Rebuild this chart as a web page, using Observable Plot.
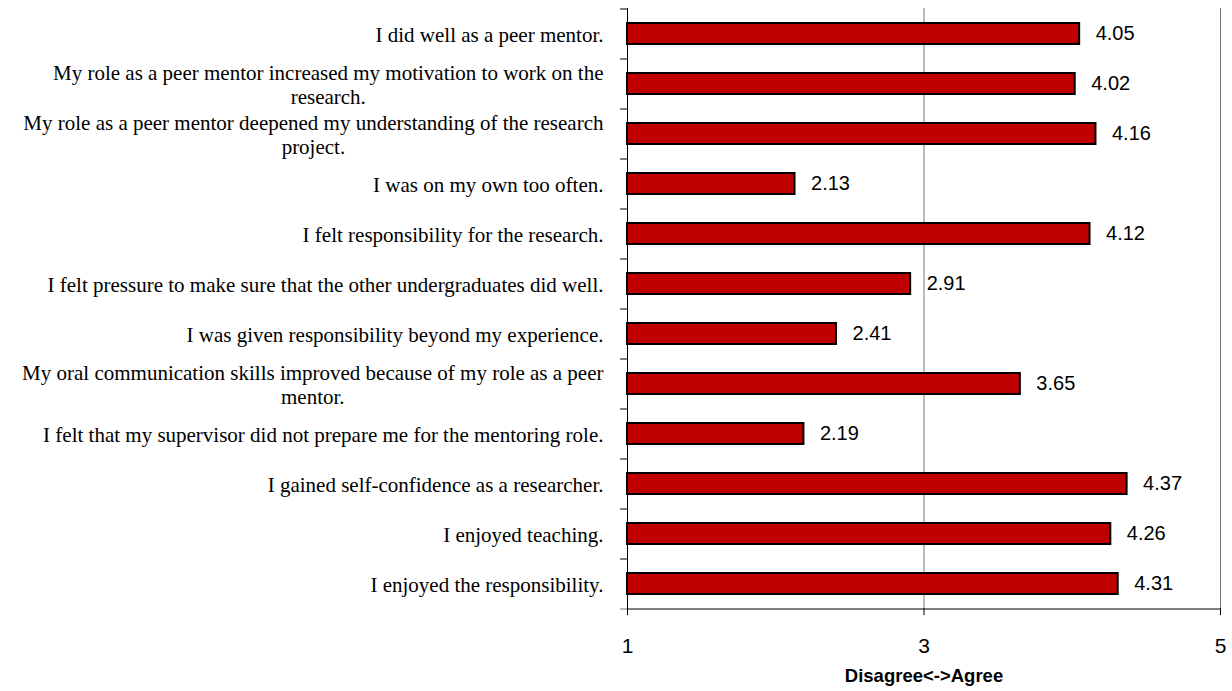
<!DOCTYPE html>
<html>
<head>
<meta charset="utf-8">
<script src="https://cdn.jsdelivr.net/npm/d3@7"></script>
<script src="https://cdn.jsdelivr.net/npm/@observablehq/plot@0.6"></script>
<style>
  body { margin: 0; background: #fff; }
  #chart svg { display: block; }
</style>
</head>
<body>
<div id="chart"></div>
<script>
const categories = [
  "I did well as a peer mentor.",
  "My role as a peer mentor increased my motivation to work on the\nresearch.",
  "My role as a peer mentor deepened my understanding of the research\nproject.",
  "I was on my own too often.",
  "I felt responsibility for the research.",
  "I felt pressure to make sure that the other undergraduates did well.",
  "I was given responsibility beyond my experience.",
  "My oral communication skills improved because of my role as a peer\nmentor.",
  "I felt that my supervisor did not prepare me for the mentoring role.",
  "I gained self-confidence as a researcher.",
  "I enjoyed teaching.",
  "I enjoyed the responsibility."
];
const values = [4.05, 4.02, 4.16, 2.13, 4.12, 2.91, 2.41, 3.65, 2.19, 4.37, 4.26, 4.31];
const xTicks = [1, 3, 5];
const xLabel = "Disagree<->Agree";

const data = categories.map((c, i) => ({category: c, value: values[i]}));
const lastCat = categories[categories.length - 1];

const chart = Plot.plot({
  width: 1232,
  height: 691,
  marginLeft: 627,
  marginRight: 12,
  marginTop: 8,
  marginBottom: 83,
  style: {background: "#fff", overflow: "visible"},
  x: {domain: [1, 5], ticks: xTicks, label: null},
  y: {domain: categories, paddingInner: 0.58, paddingOuter: 0.29, label: null},
  marks: [
    Plot.ruleX([3, 5], {stroke: "#777", strokeWidth: 1}),
    Plot.barX(data, {
      x1: 1, x2: "value", y: "category",
      fill: "#C00000", stroke: "#000", strokeWidth: 2
    }),
    Plot.text(data, {
      x: "value", y: "category", text: d => d.value.toFixed(2),
      textAnchor: "start", dx: 16, fontSize: 20,
      fontFamily: "Liberation Sans, Arial, sans-serif", fill: "#000"
    }),
    Plot.axisY({
      tickSize: 0, tickPadding: 24, fontSize: 21, lineHeight: 1.15,
      fontFamily: "Liberation Serif, Times New Roman, serif", fill: "#000"
    }),
    Plot.ruleY(categories, {y: d => d, x1: 0.953, x2: 1, dy: -25, stroke: "#000", clip: false}),
    Plot.ruleY([lastCat], {y: d => d, x1: 0.953, x2: 1, dy: 25, stroke: "#777", clip: false}),
    Plot.ruleX([1], {stroke: "#000", strokeWidth: 1}),
    Plot.ruleY([lastCat], {y: d => d, x1: 1, x2: 5, dy: 25, stroke: "#000"}),
    Plot.axisX({
      ticks: xTicks, tickSize: 7, tickPadding: 23, fontSize: 21, tickFormat: d => String(d),
      fontFamily: "Liberation Sans, Arial, sans-serif", label: null, fill: "#000", stroke: "#000"
    }),
    Plot.text([xLabel], {
      frameAnchor: "bottom", dy: 73, text: d => d, fontSize: 18.5, fontWeight: "bold",
      fontFamily: "Liberation Sans, Arial, sans-serif", fill: "#000"
    })
  ]
});

document.getElementById("chart").appendChild(chart);

// Center multi-line category labels within their right-aligned block (Excel style)
d3.select(chart).selectAll("g[aria-label='y-axis tick label'] text").each(function() {
  const tspans = this.querySelectorAll("tspan");
  if (tspans.length > 1) {
    let w = 0;
    tspans.forEach(t => { w = Math.max(w, t.getComputedTextLength()); });
    this.setAttribute("text-anchor", "middle");
    tspans.forEach(t => t.setAttribute("x", -w / 2));
  }
});
</script>
</body>
</html>
